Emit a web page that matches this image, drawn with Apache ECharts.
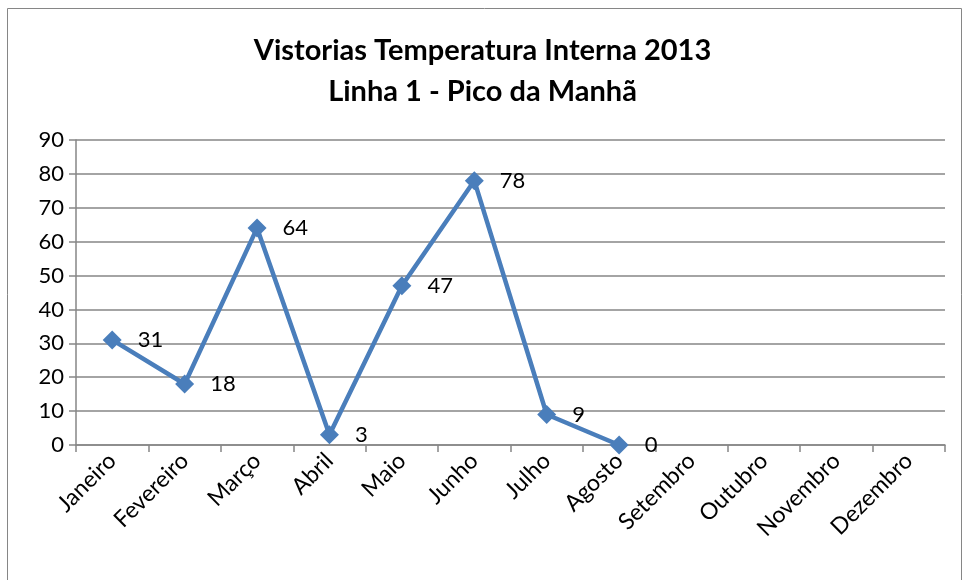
<!DOCTYPE html>
<html>
<head>
<meta charset="utf-8">
<script src="https://cdn.jsdelivr.net/npm/echarts@6/dist/echarts.min.js"></script>
<style>
  html, body { margin: 0; padding: 0; background: #fff; }
  #chart { width: 965px; height: 580px; }
</style>
</head>
<body>
<div id="chart"></div>
<script>
const months = ['Janeiro', 'Fevereiro', 'Março', 'Abril', 'Maio', 'Junho',
  'Julho', 'Agosto', 'Setembro', 'Outubro', 'Novembro', 'Dezembro']
const vistorias = [31, 18, 64, 3, 47, 78, 9, 0, null, null, null, null]

const chart = echarts.init(document.getElementById('chart'))
const font = 'Lato, "Open Sans", sans-serif'

chart.setOption({
  animation: false,
  backgroundColor: '#fff',
  graphic: [{
    type: 'rect',
    shape: { x: 7.5, y: 8.5, width: 954, height: 600 },
    style: { fill: 'none', stroke: '#868686', lineWidth: 1 }
  }],
  title: {
    text: 'Vistorias Temperatura Interna 2013\nLinha 1 - Pico da Manhã',
    left: 'center',
    top: 25,
    textStyle: { fontFamily: font, fontSize: 29, fontWeight: 'bold', color: '#000', lineHeight: 41 }
  },
  grid: { left: 76, right: 20, top: 140, bottom: 135 },
  xAxis: {
    type: 'category',
    data: months,
    boundaryGap: true,
    axisLine: { lineStyle: { color: '#868686', width: 1.5 } },
    axisTick: { show: true, length: 7, alignWithLabel: false, lineStyle: { color: '#868686', width: 1.5 } },
    axisLabel: { rotate: 45, interval: 0, fontFamily: font, fontSize: 23, color: '#000', margin: 12 }
  },
  yAxis: {
    type: 'value',
    min: 0,
    max: 90,
    interval: 10,
    axisLine: { show: true, lineStyle: { color: '#868686', width: 1.5 } },
    axisTick: { show: true, length: 7, lineStyle: { color: '#868686', width: 1.5 } },
    splitLine: { lineStyle: { color: '#868686', width: 1.5 } },
    axisLabel: { fontFamily: font, fontSize: 22, color: '#000', margin: 12 }
  },
  series: [{
    type: 'line',
    data: vistorias,
    symbol: 'diamond',
    symbolSize: 19,
    lineStyle: { color: '#4A7EBB', width: 4.5 },
    itemStyle: { color: '#4A7EBB' },
    label: {
      show: true,
      position: 'right',
      distance: 16,
      fontFamily: font,
      fontSize: 22,
      color: '#000'
    }
  }]
})
</script>
</body>
</html>
